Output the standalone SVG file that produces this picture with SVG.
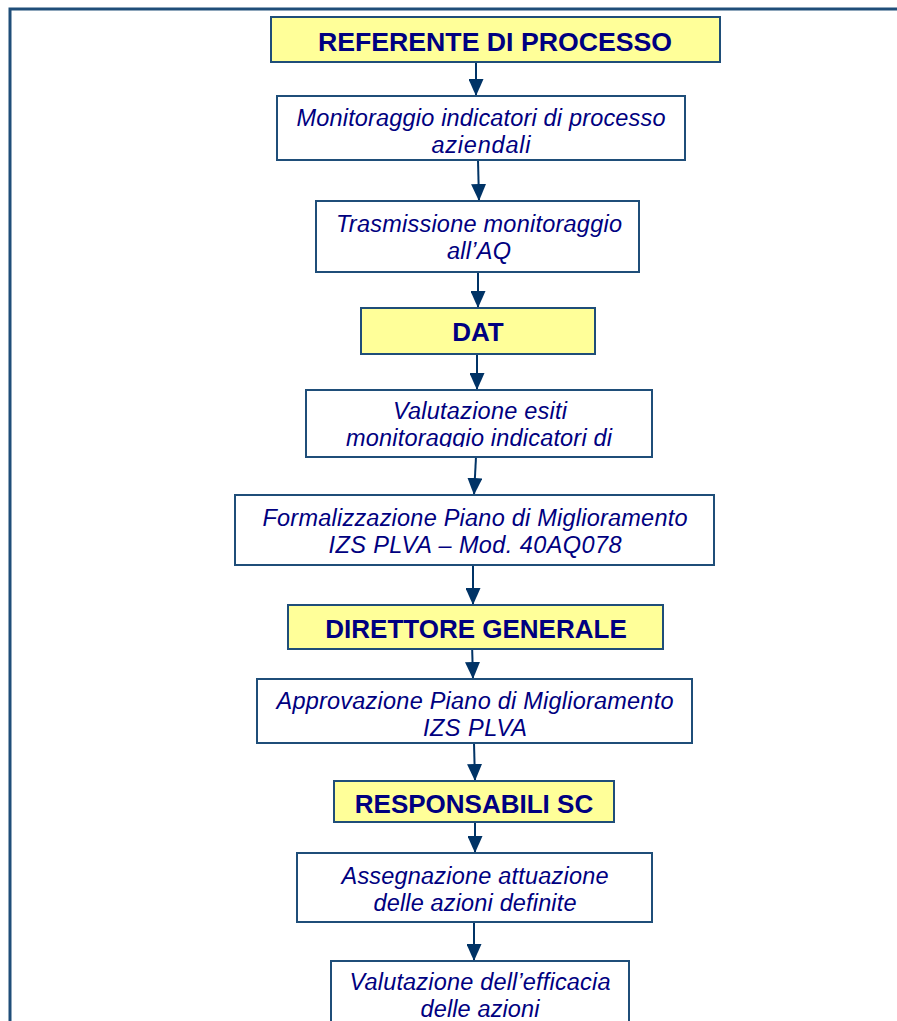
<svg xmlns="http://www.w3.org/2000/svg" width="897" height="1021" viewBox="0 0 897 1021">
  <defs>
    <style>
      .role { fill: #FFFF99; stroke: #1F4E79; stroke-width: 2; }
      .step { fill: #FFFFFF; stroke: #1F4E79; stroke-width: 2; }
      .rt { font-family: "Liberation Sans", Arial, sans-serif; font-weight: bold; font-size: 26px; fill: #000080; text-anchor: middle; }
      .st { font-family: "Liberation Sans", Arial, sans-serif; font-style: italic; font-size: 23.5px; fill: #000080; text-anchor: middle; }
      .conn { stroke: #003366; stroke-width: 2; fill: none; marker-end: url(#head); }
    </style>
    <!-- filled triangular arrowhead, tip at the line end -->
    <marker id="head" markerWidth="17" markerHeight="15" refX="17" refY="7.5" orient="auto" markerUnits="userSpaceOnUse" viewBox="0 0 17 15">
      <path d="M0,0 L17,7.5 L0,15 Z" fill="#003366"/>
    </marker>
    <clipPath id="clip-valutazione">
      <rect x="307" y="391" width="344" height="56"/>
    </clipPath>
  </defs>

  <rect width="897" height="1021" fill="#FFFFFF"/>

  <!-- outer frame -->
  <rect x="10" y="9" width="900" height="1030" fill="none" stroke="#1F4E79" stroke-width="3"/>

  <!-- connectors -->
  <g id="connectors">
    <line class="conn" x1="476" y1="62" x2="476" y2="96"/>
    <line class="conn" x1="478" y1="160" x2="479" y2="201"/>
    <line class="conn" x1="478" y1="272" x2="478" y2="308"/>
    <line class="conn" x1="477" y1="354" x2="477" y2="390"/>
    <line class="conn" x1="476" y1="457" x2="474" y2="495"/>
    <line class="conn" x1="473" y1="565" x2="473" y2="605"/>
    <line class="conn" x1="472" y1="643" x2="473" y2="679"/>
    <line class="conn" x1="474" y1="743" x2="475" y2="781"/>
    <line class="conn" x1="475" y1="822" x2="475" y2="853"/>
    <line class="conn" x1="474" y1="922" x2="474" y2="961"/>
  </g>

  <g id="referente">
    <rect class="role" x="271" y="17" width="449" height="45"/>
    <text class="rt" x="495" y="51" textLength="354" lengthAdjust="spacingAndGlyphs">REFERENTE DI PROCESSO</text>
  </g>

  <g id="monitoraggio">
    <rect class="step" x="277" y="96" width="408" height="64"/>
    <text class="st" x="481" y="126" textLength="369" lengthAdjust="spacing">Monitoraggio indicatori di processo</text>
    <text class="st" x="481" y="153" textLength="99" lengthAdjust="spacing">aziendali</text>
  </g>

  <g id="trasmissione">
    <rect class="step" x="316" y="201" width="323" height="71"/>
    <text class="st" x="479" y="232" textLength="286" lengthAdjust="spacing">Trasmissione monitoraggio</text>
    <text class="st" x="479" y="259" textLength="64" lengthAdjust="spacing">all’AQ</text>
  </g>

  <g id="dat">
    <rect class="role" x="361" y="308" width="234" height="46"/>
    <text class="rt" x="478" y="341">DAT</text>
  </g>

  <g id="valutazione-esiti">
    <rect class="step" x="306" y="390" width="346" height="67"/>
    <g clip-path="url(#clip-valutazione)">
      <text class="st" x="480" y="419" textLength="174" lengthAdjust="spacing">Valutazione esiti</text>
      <text class="st" x="479" y="446" textLength="266" lengthAdjust="spacing">monitoraggio indicatori di</text>
    </g>
  </g>

  <g id="formalizzazione">
    <rect class="step" x="235" y="495" width="479" height="70"/>
    <text class="st" x="475" y="526" textLength="425" lengthAdjust="spacing">Formalizzazione Piano di Miglioramento</text>
    <text class="st" x="475" y="553" textLength="293" lengthAdjust="spacing">IZS PLVA – Mod. 40AQ078</text>
  </g>

  <g id="direttore">
    <rect class="role" x="288" y="605" width="375" height="44"/>
    <text class="rt" x="476" y="638">DIRETTORE GENERALE</text>
  </g>

  <g id="approvazione">
    <rect class="step" x="257" y="679" width="435" height="64"/>
    <text class="st" x="475" y="709" textLength="397" lengthAdjust="spacing">Approvazione Piano di Miglioramento</text>
    <text class="st" x="475" y="736" textLength="104" lengthAdjust="spacing">IZS PLVA</text>
  </g>

  <g id="responsabili">
    <rect class="role" x="334" y="781" width="280" height="41"/>
    <text class="rt" x="474" y="813">RESPONSABILI SC</text>
  </g>

  <g id="assegnazione">
    <rect class="step" x="297" y="853" width="355" height="69"/>
    <text class="st" x="475" y="884" textLength="267" lengthAdjust="spacing">Assegnazione attuazione</text>
    <text class="st" x="475" y="911" textLength="203" lengthAdjust="spacing">delle azioni definite</text>
  </g>

  <g id="valutazione-efficacia">
    <rect class="step" x="331" y="961" width="298" height="80"/>
    <text class="st" x="480" y="990" textLength="261" lengthAdjust="spacing">Valutazione dell’efficacia</text>
    <text class="st" x="480" y="1017" textLength="119" lengthAdjust="spacing">delle azioni</text>
  </g>
</svg>
